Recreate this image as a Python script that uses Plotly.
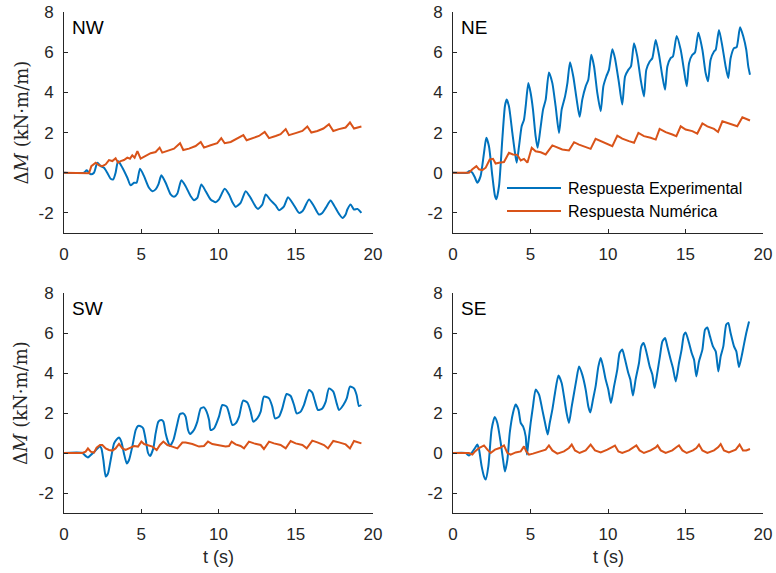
import plotly.graph_objects as go

# ---------------- data ----------------
nw_exp_t = [0.00, 1.29, 1.47, 1.73, 1.94, 2.16, 2.37, 2.59, 2.80, 3.02, 3.19, 3.34, 3.50, 3.78, 4.10, 4.31, 4.53, 4.70, 4.92, 5.18, 5.50, 5.72, 5.93, 6.11, 6.30, 6.58, 6.90, 7.12, 7.34, 7.59, 7.87, 8.20, 8.41, 8.63, 8.89, 9.17, 9.49, 9.82, 10.03, 10.40, 10.68, 10.90, 11.11, 11.43, 11.76, 12.08, 12.41, 12.56, 12.84, 13.05, 13.38, 13.70, 13.92, 14.24, 14.50, 14.89, 15.21, 15.43, 15.53, 15.86, 16.18, 16.50, 16.72, 16.94, 17.26, 17.48, 17.80, 18.02, 18.23, 18.34, 18.55, 18.77, 18.99, 19.25]
nw_exp_v = [0, 0, 0.12, -0.08, 0.0, 0.5, 0.33, 0.25, 0.0, -0.3, -0.33, 0.0, 0.58, 0.25, -0.25, -0.63, -0.5, -0.5, 0.2, -0.17, -0.75, -0.92, -0.83, -0.58, -0.13, -0.5, -1.08, -1.2, -1.03, -0.38, -0.67, -1.17, -1.37, -1.25, -0.58, -0.92, -1.33, -1.47, -1.33, -0.8, -1.08, -1.47, -1.7, -1.5, -0.92, -1.25, -1.7, -1.8, -1.58, -1.08, -1.38, -1.63, -1.87, -1.67, -1.22, -1.63, -2.0, -1.92, -1.8, -1.33, -1.67, -2.08, -2.0, -1.75, -1.38, -1.63, -2.05, -2.25, -2.08, -1.83, -1.58, -1.83, -1.8, -2.0]

nw_num_t = [0, 1.62, 1.77, 2.05, 2.27, 2.48, 2.70, 2.91, 3.13, 3.34, 3.50, 3.67, 3.88, 4.10, 4.27, 4.42, 4.57, 4.75, 4.96, 5.29, 5.61, 5.93, 6.19, 6.36, 6.69, 7.12, 7.51, 7.72, 8.09, 8.52, 8.85, 9.06, 9.49, 9.92, 10.18, 10.40, 10.79, 11.22, 11.61, 11.82, 12.19, 12.62, 12.99, 13.27, 13.70, 14.02, 14.35, 14.56, 14.99, 15.43, 15.75, 16.01, 16.40, 16.79, 17.15, 17.43, 17.80, 18.23, 18.51, 18.77, 19.25]
nw_num_v = [0, -0.03, 0.33, 0.5, 0.37, 0.33, 0.42, 0.63, 0.58, 0.72, 0.5, 0.58, 0.63, 0.75, 0.7, 0.87, 0.75, 1.08, 0.7, 0.83, 0.97, 1.03, 1.25, 1.0, 1.08, 1.2, 1.47, 1.13, 1.2, 1.33, 1.53, 1.25, 1.37, 1.47, 1.72, 1.47, 1.53, 1.7, 1.87, 1.62, 1.7, 1.83, 2.03, 1.72, 1.83, 1.92, 2.17, 1.87, 1.97, 2.08, 2.3, 2.0, 2.08, 2.2, 2.42, 2.08, 2.17, 2.25, 2.5, 2.2, 2.3]

ne_exp_t = [0, 0.92, 1.03, 1.25, 1.42, 1.57, 1.78, 2.0, 2.15, 2.32, 2.54, 2.71, 2.80, 2.97, 3.18, 3.35, 3.46, 3.61, 3.83, 4.0, 4.11, 4.26, 4.43, 4.58, 4.69, 4.86, 5.01, 5.16, 5.33, 5.46, 5.66, 5.81, 5.98, 6.19, 6.41, 6.62, 6.84, 7.01, 7.23, 7.38, 7.55, 7.76, 7.98, 8.17, 8.34, 8.56, 8.73, 8.92, 9.10, 9.31, 9.53, 9.70, 9.89, 10.06, 10.28, 10.45, 10.71, 10.92, 11.10, 11.31, 11.48, 11.68, 11.89, 12.11, 12.32, 12.47, 12.69, 12.86, 13.08, 13.29, 13.51, 13.68, 13.83, 14.04, 14.19, 14.43, 14.69, 14.90, 15.08, 15.23, 15.44, 15.61, 15.83, 16.09, 16.30, 16.45, 16.62, 16.84, 16.95, 17.16, 17.38, 17.59, 17.76, 17.91, 18.13, 18.30, 18.52, 18.73, 18.92, 19.05, 19.16]
ne_exp_v = [0, 0, 0.08, 0, -0.25, -0.5, -0.17, 0.99, 1.74, 1.32, -0.17, -1.16, -1.32, -0.66, 1.65, 3.31, 3.64, 3.31, 1.98, 0.99, 0.5, 1.32, 2.31, 2.64, 3.31, 4.46, 3.97, 3.14, 1.82, 1.24, 2.31, 3.14, 3.64, 4.99, 4.46, 3.31, 1.98, 3.14, 3.8, 4.46, 5.5, 4.79, 3.64, 2.78, 3.64, 4.3, 4.63, 5.87, 5.29, 3.97, 3.06, 4.30, 4.79, 5.12, 6.15, 5.70, 4.46, 3.39, 4.79, 5.12, 5.29, 6.45, 5.79, 4.63, 3.8, 5.12, 5.54, 5.70, 6.61, 5.87, 4.79, 4.13, 5.29, 5.70, 5.79, 6.81, 6.12, 5.12, 4.30, 5.45, 5.87, 5.98, 6.97, 6.12, 4.96, 4.55, 5.62, 6.03, 6.12, 7.11, 6.28, 5.29, 4.71, 5.70, 6.20, 6.25, 7.24, 6.78, 6.12, 5.29, 4.88]

ne_num_t = [0, 1.03, 1.25, 1.51, 1.68, 1.89, 2.11, 2.37, 2.58, 2.75, 2.97, 3.29, 3.61, 3.87, 4.15, 4.37, 4.58, 4.80, 5.08, 5.33, 5.66, 5.98, 6.41, 6.73, 7.05, 7.48, 7.81, 8.13, 8.56, 8.88, 9.20, 9.63, 10.06, 10.28, 10.60, 10.92, 11.35, 11.68, 11.96, 12.32, 12.75, 13.08, 13.33, 13.72, 14.15, 14.41, 14.69, 15.01, 15.44, 15.76, 16.09, 16.41, 16.84, 17.10, 17.38, 17.70, 18.13, 18.34, 18.67, 18.88, 19.16]
ne_num_v = [0, 0, 0.17, 0.33, 0.17, 0.13, 0.25, 0.66, 0.69, 0.46, 0.5, 0.53, 0.99, 0.91, 0.89, 0.61, 0.69, 0.5, 1.24, 1.07, 1.02, 0.91, 1.36, 1.24, 1.16, 1.11, 1.52, 1.40, 1.29, 1.19, 1.69, 1.55, 1.41, 1.32, 1.85, 1.70, 1.57, 1.49, 1.98, 1.82, 1.74, 1.65, 2.18, 2.02, 1.90, 1.82, 2.31, 2.15, 2.07, 1.95, 2.45, 2.31, 2.18, 2.03, 2.56, 2.48, 2.40, 2.31, 2.76, 2.69, 2.60]

sw_exp_t = [0, 1.19, 1.40, 1.55, 1.73, 1.98, 2.16, 2.33, 2.42, 2.55, 2.70, 2.85, 3.02, 3.24, 3.41, 3.56, 3.71, 3.88, 4.06, 4.21, 4.42, 4.64, 4.79, 5.01, 5.13, 5.29, 5.44, 5.57, 5.78, 5.93, 6.11, 6.30, 6.43, 6.58, 6.73, 6.86, 7.08, 7.34, 7.51, 7.72, 7.87, 8.03, 8.16, 8.41, 8.63, 8.85, 9.06, 9.23, 9.39, 9.49, 9.71, 10.03, 10.25, 10.53, 10.68, 10.90, 11.11, 11.33, 11.59, 11.87, 12.08, 12.25, 12.51, 12.73, 12.94, 13.27, 13.48, 13.66, 13.92, 14.13, 14.41, 14.67, 14.89, 15.06, 15.32, 15.53, 15.86, 16.07, 16.22, 16.44, 16.72, 16.94, 17.15, 17.43, 17.65, 17.80, 18.08, 18.30, 18.51, 18.77, 18.94, 19.09, 19.25]
sw_exp_v = [0, 0, -0.15, -0.22, -0.1, 0.07, 0.23, 0.32, 0.23, -0.35, -1.18, -1.02, -0.35, 0.48, 0.68, 0.78, 0.57, -0.02, -0.52, -0.35, 0.32, 1.15, 1.35, 1.32, 1.23, 0.65, 0.0, -0.15, 0.23, 0.98, 1.57, 1.65, 1.57, 0.98, 0.57, 0.35, 0.65, 1.48, 1.95, 1.98, 1.82, 1.15, 0.95, 1.15, 1.57, 2.23, 2.28, 2.07, 1.65, 1.15, 1.23, 1.82, 2.4, 2.32, 1.98, 1.4, 1.48, 1.82, 2.62, 2.52, 2.07, 1.57, 1.73, 2.07, 2.82, 2.73, 2.32, 1.73, 1.82, 2.23, 2.95, 2.85, 2.4, 1.98, 2.07, 2.4, 3.15, 3.02, 2.65, 2.15, 2.23, 2.57, 3.23, 3.07, 2.48, 2.15, 2.4, 2.73, 3.32, 3.23, 2.9, 2.35, 2.4]

sw_num_t = [0, 1.19, 1.40, 1.55, 1.73, 1.94, 2.11, 2.33, 2.48, 2.70, 2.91, 3.13, 3.34, 3.56, 3.78, 3.99, 4.31, 4.53, 4.79, 5.01, 5.18, 5.50, 5.72, 6.00, 6.21, 6.43, 6.69, 7.01, 7.34, 7.66, 7.87, 8.31, 8.74, 9.06, 9.32, 9.60, 10.03, 10.46, 10.68, 10.85, 11.11, 11.43, 11.65, 11.97, 12.30, 12.73, 12.94, 13.27, 13.59, 14.02, 14.35, 14.67, 14.99, 15.43, 15.71, 16.07, 16.40, 16.83, 17.09, 17.43, 17.80, 18.23, 18.51, 18.77, 19.25]
sw_num_v = [0, 0, 0.07, 0.23, 0.07, 0.02, 0.27, 0.4, 0.4, 0.23, 0.15, 0.12, 0.23, 0.45, 0.23, 0.15, 0.27, 0.35, 0.32, 0.57, 0.45, 0.35, 0.32, 0.15, 0.4, 0.57, 0.4, 0.32, 0.23, 0.52, 0.52, 0.45, 0.32, 0.35, 0.57, 0.45, 0.4, 0.32, 0.35, 0.57, 0.43, 0.35, 0.23, 0.57, 0.48, 0.4, 0.2, 0.57, 0.48, 0.4, 0.23, 0.6, 0.48, 0.4, 0.23, 0.62, 0.53, 0.4, 0.23, 0.6, 0.53, 0.43, 0.23, 0.6, 0.48]

se_exp_t = [0, 0.82, 1.03, 1.20, 1.42, 1.57, 1.68, 1.85, 2.0, 2.11, 2.28, 2.49, 2.69, 2.86, 3.08, 3.23, 3.35, 3.51, 3.66, 3.87, 4.04, 4.22, 4.37, 4.52, 4.69, 4.77, 4.86, 5.01, 5.16, 5.33, 5.55, 5.76, 5.94, 6.11, 6.24, 6.41, 6.58, 6.80, 7.01, 7.16, 7.33, 7.48, 7.66, 7.81, 7.96, 8.13, 8.34, 8.56, 8.73, 8.86, 9.03, 9.20, 9.38, 9.53, 9.68, 9.85, 10.02, 10.19, 10.39, 10.60, 10.75, 10.92, 11.10, 11.31, 11.44, 11.61, 11.78, 12.0, 12.15, 12.30, 12.47, 12.69, 12.86, 13.01, 13.18, 13.35, 13.51, 13.68, 13.83, 14.04, 14.19, 14.37, 14.58, 14.75, 14.90, 15.01, 15.23, 15.40, 15.55, 15.70, 15.87, 16.09, 16.26, 16.41, 16.58, 16.77, 16.95, 17.12, 17.27, 17.44, 17.63, 17.76, 17.91, 18.13, 18.28, 18.45, 18.62, 18.77, 18.92, 19.10]
se_exp_v = [0, 0, -0.13, 0, 0.25, 0.42, 0.17, -0.67, -1.17, -1.33, -0.67, 1.17, 1.8, 1.5, 0.5, -0.33, -0.92, -0.33, 1.0, 2.0, 2.42, 2.17, 1.5, 1.33, 0.83, -0.08, 0.5, 1.5, 2.33, 3.17, 2.92, 2.17, 1.5, 0.92, 1.5, 2.17, 3.0, 3.87, 3.5, 2.83, 2.0, 1.5, 2.33, 3.0, 3.67, 4.33, 3.92, 3.17, 2.33, 2.03, 2.67, 3.33, 4.33, 4.75, 4.33, 3.67, 3.17, 2.5, 3.33, 4.17, 5.0, 5.17, 4.67, 4.0, 3.67, 2.87, 3.67, 4.5, 5.33, 5.5, 5.08, 4.33, 3.92, 3.25, 4.0, 4.83, 5.58, 5.75, 5.33, 4.67, 4.25, 3.58, 4.5, 5.17, 5.92, 6.03, 5.5, 5.0, 4.67, 3.83, 4.58, 5.17, 6.17, 6.28, 5.83, 5.33, 5.08, 4.08, 4.83, 5.33, 6.42, 6.5, 6.0, 5.33, 5.08, 4.3, 4.83, 5.42, 6.0, 6.58]

se_num_t = [0, 1.03, 1.25, 1.42, 1.68, 2.0, 2.22, 2.43, 2.71, 3.01, 3.29, 3.51, 3.72, 4.04, 4.37, 4.58, 4.73, 4.90, 5.16, 5.55, 5.98, 6.19, 6.41, 6.73, 7.16, 7.48, 7.66, 7.87, 8.17, 8.56, 8.88, 9.16, 9.53, 9.96, 10.28, 10.45, 10.67, 10.92, 11.35, 11.68, 11.83, 12.04, 12.32, 12.75, 13.08, 13.20, 13.40, 13.72, 14.15, 14.43, 14.58, 14.80, 15.08, 15.48, 15.70, 15.87, 16.09, 16.41, 16.84, 17.12, 17.27, 17.48, 17.80, 18.24, 18.49, 18.71, 18.92, 19.16]
se_num_v = [0, 0, -0.08, 0.08, 0.25, 0.38, 0.17, 0, 0.17, 0.25, 0.38, 0, -0.08, 0.03, 0.08, 0.33, 0.08, -0.08, -0.03, 0.08, 0.17, 0.38, 0.13, -0.03, 0.08, 0.25, 0.42, 0.13, 0, 0.13, 0.42, 0.13, 0.03, 0.17, 0.28, 0.37, 0.08, 0, 0.13, 0.28, 0.38, 0.13, 0, 0.13, 0.28, 0.38, 0.13, 0, 0.13, 0.3, 0.38, 0.13, 0, 0.13, 0.25, 0.42, 0.13, 0, 0.13, 0.3, 0.45, 0.13, 0.03, 0.17, 0.42, 0.13, 0.13, 0.2]

panel_names = ["NW", "NE", "SW", "SE"]
series_names = ["Respuesta Experimental", "Respuesta Numérica"]
x_ticks = [0, 5, 10, 15, 20]
y_ticks = [-2, 0, 2, 4, 6, 8]
x_title = "t (s)"
y_title = "Δ<i>M</i> (kN·m/m)"

# ---------------- styling ----------------
W, H = 776, 573
BLUE = "#0072BD"
ORANGE = "#D95319"
AXC = "#262626"
SANS = "Liberation Sans, Arial, sans-serif"

xdom_l = [64 / W, 373 / W]
xdom_r = [453 / W, 763 / W]
ydom_t = [(H - 233) / H, (H - 12) / H]
ydom_b = [(H - 513) / H, (H - 293) / H]

panels = [
    (nw_exp_t, nw_exp_v, nw_num_t, nw_num_v, xdom_l, ydom_t),
    (ne_exp_t, ne_exp_v, ne_num_t, ne_num_v, xdom_r, ydom_t),
    (sw_exp_t, sw_exp_v, sw_num_t, sw_num_v, xdom_l, ydom_b),
    (se_exp_t, se_exp_v, se_num_t, se_num_v, xdom_r, ydom_b),
]

fig = go.Figure()
layout = dict(
    width=W, height=H,
    margin=dict(l=0, r=0, t=0, b=0, autoexpand=False),
    paper_bgcolor="white", plot_bgcolor="white",
    showlegend=False,
    font=dict(family=SANS, color=AXC),
)

annotations = []
shapes = []
for i, (et, ev, nt, nv, xd, yd) in enumerate(panels):
    n = i + 1
    xa = "x" if n == 1 else f"x{n}"
    ya = "y" if n == 1 else f"y{n}"
    fig.add_trace(go.Scatter(x=et, y=ev, mode="lines", name=series_names[0],
                             line=dict(color=BLUE, width=2, shape="spline", smoothing=0.6),
                             xaxis=xa, yaxis=ya))
    fig.add_trace(go.Scatter(x=nt, y=nv, mode="lines", name=series_names[1],
                             line=dict(color=ORANGE, width=2), xaxis=xa, yaxis=ya))
    axis_common = dict(showgrid=False, zeroline=False, showline=True, linecolor=AXC,
                       linewidth=1, ticks="inside", ticklen=4, tickwidth=1, tickcolor=AXC,
                       tickfont=dict(family=SANS, size=17, color=AXC), mirror=False,
                       automargin=False)
    layout["xaxis" if n == 1 else f"xaxis{n}"] = dict(
        domain=xd, anchor=ya, range=[0, 20], tickvals=x_ticks,
        ticktext=[str(v) for v in x_ticks], ticklabelstandoff=6, **axis_common)
    layout["yaxis" if n == 1 else f"yaxis{n}"] = dict(
        domain=yd, anchor=xa, range=[-3, 8], tickvals=y_ticks,
        ticktext=[str(v) for v in y_ticks], ticklabelstandoff=6, **axis_common)
    annotations.append(dict(text=panel_names[i], xref=f"{xa} domain", yref=f"{ya} domain",
                            x=0.02, y=0.985, xanchor="left", yanchor="top", showarrow=False,
                            font=dict(family=SANS, size=19, color="black")))

# y-axis titles (left column)
for yd in (ydom_t, ydom_b):
    annotations.append(dict(text=y_title, xref="paper", yref="paper",
                            x=21 / W, y=(yd[0] + yd[1]) / 2, textangle=-90,
                            xanchor="center", yanchor="middle", showarrow=False,
                            font=dict(family="DejaVu Serif, serif", size=18, color=AXC)))
# x-axis titles (bottom row)
for xd in (xdom_l, xdom_r):
    annotations.append(dict(text=x_title, xref="paper", yref="paper",
                            x=(xd[0] + xd[1]) / 2, y=(H - 557) / H,
                            xanchor="center", yanchor="middle", showarrow=False,
                            font=dict(family=SANS, size=18, color=AXC)))

# legend inside NE panel
leg_rows = [(188, BLUE, series_names[0]), (211, ORANGE, series_names[1])]
for yy, col, txt in leg_rows:
    shapes.append(dict(type="line", xref="paper", yref="paper",
                       x0=507 / W, x1=561 / W, y0=(H - yy) / H, y1=(H - yy) / H,
                       line=dict(color=col, width=2)))
    annotations.append(dict(text=txt, xref="paper", yref="paper", x=566 / W, y=(H - yy) / H,
                            xanchor="left", yanchor="middle", showarrow=False,
                            font=dict(family=SANS, size=16, color="black")))

layout["annotations"] = annotations
layout["shapes"] = shapes
fig.update_layout(**layout)
fig.write_html("out.html")
